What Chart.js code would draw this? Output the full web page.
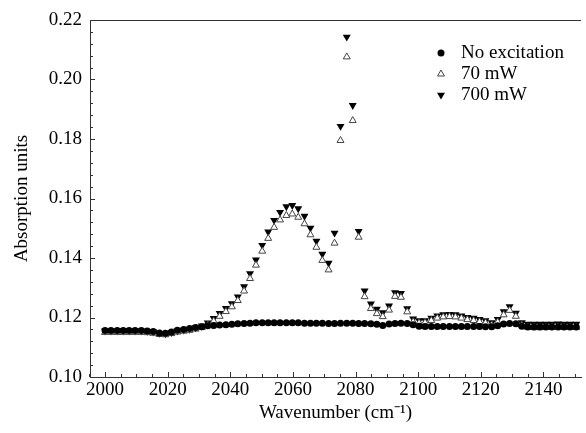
<!DOCTYPE html>
<html>
<head>
<meta charset="utf-8">
<script src="https://cdn.jsdelivr.net/npm/chart.js@4/dist/chart.umd.min.js"></script>
<style>
  html, body { margin: 0; padding: 0; background: #fff; }
  #wrap { width: 586px; height: 433px; }
</style>
</head>
<body>
<div id="wrap"><canvas id="c" width="586" height="433"></canvas></div>
<script>
// Wavenumber sampling (cm^-1)
const wavenumbers = [
  2000.0, 2001.9, 2003.9, 2005.8, 2007.7, 2009.6, 2011.6, 2013.5, 2015.4, 2017.4,
  2019.3, 2021.2, 2023.1, 2025.1, 2027.0, 2028.9, 2030.9, 2032.8, 2034.7, 2036.6,
  2038.6, 2040.5, 2042.4, 2044.4, 2046.3, 2048.2, 2050.2, 2052.1, 2054.0, 2055.9,
  2057.9, 2059.8, 2061.7, 2063.7, 2065.6, 2067.5, 2069.4, 2071.4, 2073.3, 2075.2,
  2077.2, 2079.1, 2081.0, 2082.9, 2084.9, 2086.8, 2088.7, 2090.7, 2092.6, 2094.5,
  2096.5, 2098.4, 2100.3, 2102.2, 2104.2, 2106.1, 2108.0, 2110.0, 2111.9, 2113.8,
  2115.7, 2117.7, 2119.6, 2121.5, 2123.5, 2125.4, 2127.3, 2129.2, 2131.2, 2133.1,
  2135.0, 2137.0, 2138.9, 2140.8, 2142.7, 2144.7, 2146.6, 2148.5, 2150.5
];

// Absorption, no excitation
const noExcitation = [
  0.1156, 0.1156, 0.1156, 0.1156, 0.1156, 0.1156, 0.1156, 0.1155, 0.1153, 0.1148,
  0.1147, 0.1151, 0.1157, 0.1160, 0.1163, 0.1166, 0.1169, 0.1172, 0.1173, 0.1175,
  0.1176, 0.1177, 0.1179, 0.1180, 0.1181, 0.1182, 0.1182, 0.1182, 0.1182, 0.1182,
  0.1182, 0.1182, 0.1182, 0.1181, 0.1181, 0.1181, 0.1181, 0.1180, 0.1180, 0.1181,
  0.1181, 0.1181, 0.1180, 0.1180, 0.1179, 0.1177, 0.1173, 0.1178, 0.1180, 0.1181,
  0.1180, 0.1176, 0.1171, 0.1170, 0.1170, 0.1170, 0.1170, 0.1170, 0.1170, 0.1170,
  0.1170, 0.1170, 0.1170, 0.1169, 0.1169, 0.1172, 0.1178, 0.1180, 0.1179, 0.1171,
  0.1168, 0.1168, 0.1168, 0.1168, 0.1168, 0.1168, 0.1168, 0.1168, 0.1168
];

// Absorption under 70 mW excitation
const mw70 = [
  0.1150, 0.1150, 0.1150, 0.1150, 0.1150, 0.1150, 0.1150, 0.1149, 0.1147, 0.1143,
  0.1142, 0.1146, 0.1151, 0.1154, 0.1157, 0.1161, 0.1166, 0.1175, 0.1188, 0.1204,
  0.1220, 0.1236, 0.1257, 0.1289, 0.1331, 0.1376, 0.1423, 0.1466, 0.1503, 0.1528,
  0.1543, 0.1548, 0.1537, 0.1515, 0.1478, 0.1436, 0.1392, 0.1360, 0.1450, 0.1795,
  0.2076, 0.1862, 0.1470, 0.1270, 0.1230, 0.1213, 0.1203, 0.1225, 0.1271, 0.1268,
  0.1219, 0.1186, 0.1182, 0.1183, 0.1190, 0.1198, 0.1202, 0.1203, 0.1202, 0.1198,
  0.1193, 0.1190, 0.1186, 0.1182, 0.1175, 0.1185, 0.1209, 0.1224, 0.1204, 0.1174,
  0.1167, 0.1166, 0.1166, 0.1167, 0.1167, 0.1168, 0.1167, 0.1167, 0.1167
];

// Absorption under 700 mW excitation
const mw700 = [
  0.1155, 0.1155, 0.1155, 0.1155, 0.1155, 0.1155, 0.1155, 0.1154, 0.1152, 0.1147,
  0.1146, 0.1150, 0.1155, 0.1158, 0.1161, 0.1166, 0.1172, 0.1182, 0.1197, 0.1214,
  0.1231, 0.1247, 0.1270, 0.1304, 0.1348, 0.1394, 0.1443, 0.1488, 0.1527, 0.1554,
  0.1573, 0.1577, 0.1566, 0.1541, 0.1501, 0.1457, 0.1413, 0.1383, 0.1484, 0.1843,
  0.2143, 0.1913, 0.1490, 0.1290, 0.1246, 0.1228, 0.1217, 0.1239, 0.1284, 0.1281,
  0.1230, 0.1196, 0.1190, 0.1190, 0.1198, 0.1206, 0.1210, 0.1211, 0.1210, 0.1206,
  0.1201, 0.1198, 0.1194, 0.1190, 0.1183, 0.1194, 0.1220, 0.1237, 0.1215, 0.1183,
  0.1178, 0.1178, 0.1178, 0.1178, 0.1178, 0.1179, 0.1178, 0.1178, 0.1178
];

const seriesLabels = ['No excitation', '70 mW', '700 mW'];
const xTicks = [2000, 2020, 2040, 2060, 2080, 2100, 2120, 2140];
const yTicks = [0.10, 0.12, 0.14, 0.16, 0.18, 0.20, 0.22];

const FONT = "'Liberation Serif', 'Times New Roman', serif";
const AXIS_COLOR = '#333';

const toPoints = ys => wavenumbers.map((x, i) => ({ x, y: ys[i] }));

// Inward major/minor tick marks, top frame line and the in-plot legend
const framePlugin = {
  id: 'frame',
  afterDraw(chart) {
    const { ctx, chartArea: a, scales } = chart;
    const xs = scales.x, ys = scales.y;
    ctx.save();
    ctx.strokeStyle = AXIS_COLOR;
    ctx.lineWidth = 1;
    ctx.beginPath();
    // top frame
    ctx.moveTo(a.left, a.top + 0.5);
    ctx.lineTo(a.right, a.top + 0.5);
    // x ticks (major every 20, minor every 5)
    for (let v = 1995; v <= xs.max; v += 5) {
      const px = Math.round(xs.getPixelForValue(v)) + 0.5;
      const len = (v % 20 === 0) ? 5 : 3;
      ctx.moveTo(px, a.bottom);
      ctx.lineTo(px, a.bottom - len);
    }
    // y ticks (major every 0.02, minor every 0.004)
    for (let k = 0; k <= 30; k++) {
      const v = 0.10 + k * 0.004;
      const py = Math.round(ys.getPixelForValue(v)) + 0.5;
      const len = (k % 5 === 0) ? 5 : 3;
      ctx.moveTo(a.left, py);
      ctx.lineTo(a.left + len, py);
    }
    ctx.stroke();

    // legend
    const lx = 441, ly0 = 53, dy = 21;
    chart.data.datasets.forEach((ds, i) => {
      const y = ly0 + i * dy;
      ctx.fillStyle = ds.backgroundColor;
      ctx.strokeStyle = ds.borderColor;
      ctx.lineWidth = ds.borderWidth;
      Chart.helpers.drawPoint(ctx, {
        pointStyle: ds.pointStyle,
        radius: ds.pointRadius,
        rotation: ds.rotation || 0,
        borderWidth: ds.borderWidth
      }, lx, y);
      ctx.fillStyle = '#000';
      ctx.font = '19px ' + FONT;
      ctx.textBaseline = 'middle';
      ctx.textAlign = 'left';
      ctx.fillText(ds.label, 461, y);
    });
    ctx.restore();
  }
};

new Chart(document.getElementById('c'), {
  type: 'scatter',
  data: {
    datasets: [
      {
        label: seriesLabels[0],
        data: toPoints(noExcitation),
        pointStyle: 'circle',
        pointRadius: 3.5,
        backgroundColor: '#000',
        borderColor: '#000',
        borderWidth: 0
      },
      {
        label: seriesLabels[1],
        data: toPoints(mw70),
        pointStyle: 'triangle',
        pointRadius: 4,
        backgroundColor: '#fff',
        borderColor: '#444',
        borderWidth: 1
      },
      {
        label: seriesLabels[2],
        data: toPoints(mw700),
        pointStyle: 'triangle',
        rotation: 180,
        pointRadius: 4.6,
        backgroundColor: '#000',
        borderColor: '#000',
        borderWidth: 0
      }
    ]
  },
  options: {
    responsive: false,
    animation: false,
    devicePixelRatio: 1,
    layout: { padding: { top: 20, right: 2, left: 0, bottom: 0 } },
    plugins: {
      legend: { display: false },
      tooltip: { enabled: false }
    },
    elements: { point: { hoverRadius: 4 } },
    scales: {
      x: {
        type: 'linear',
        position: 'bottom',
        min: 1995.2,
        max: 2152,
        afterFit: s => { s.height = 56; },
        afterBuildTicks: s => { s.ticks = xTicks.map(v => ({ value: v })); },
        grid: { display: true, drawOnChartArea: false, drawTicks: false },
        border: { display: true, color: AXIS_COLOR, width: 1 },
        ticks: {
          color: '#000',
          font: { family: FONT, size: 19 },
          padding: 2,
          maxRotation: 0,
          callback: v => String(v)
        },
        title: {
          display: true,
          text: 'Wavenumber (cm\u207B\u00B9)',
          color: '#000',
          font: { family: FONT, size: 19 },
          padding: { top: 0, bottom: 9 }
        }
      },
      y: {
        type: 'linear',
        min: 0.10,
        max: 0.22,
        afterFit: s => { s.width = 90; },
        afterBuildTicks: s => { s.ticks = yTicks.map(v => ({ value: v })); },
        grid: { display: true, drawOnChartArea: false, drawTicks: false },
        border: { display: true, color: AXIS_COLOR, width: 1 },
        ticks: {
          color: '#000',
          font: { family: FONT, size: 19 },
          padding: 8,
          callback: v => Number(v).toFixed(2)
        },
        title: {
          display: true,
          text: 'Absorption units',
          color: '#000',
          font: { family: FONT, size: 19 },
          padding: { top: 11, bottom: 0 }
        }
      }
    }
  },
  plugins: [framePlugin]
});
</script>
</body>
</html>
